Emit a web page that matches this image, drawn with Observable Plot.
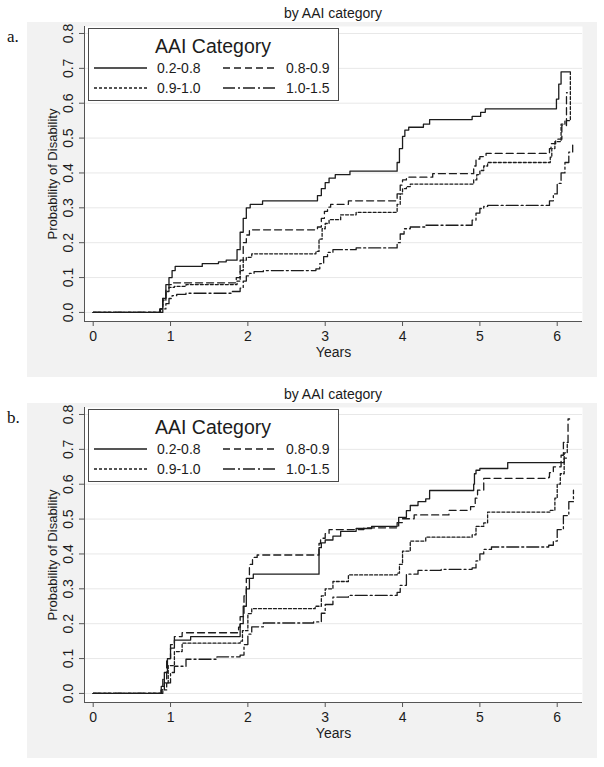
<!DOCTYPE html>
<html><head><meta charset="utf-8">
<script src="https://cdn.jsdelivr.net/npm/d3@7"></script>
<script src="https://cdn.jsdelivr.net/npm/@observablehq/plot@0.6"></script>
<style>
body{margin:0;background:#fff;width:604px;height:767px;position:relative;font-family:"Liberation Sans",Arial,sans-serif;overflow:hidden}
.title{position:absolute;left:83px;width:500px;text-align:center;font-size:14px;color:#1a1a1a;line-height:16px}
.tag{position:absolute;left:7px;font-family:"Liberation Serif","Times New Roman",serif;font-size:17px;color:#111;line-height:18px}
.panel{position:absolute;left:27px;width:570px;height:355px;background:#f2f2f2}
.panel svg{position:absolute;left:0;top:0}
.legend{position:absolute;left:61px;top:6px;width:251px;height:73px}
</style></head><body>
<script>
// ---- data ----
const categories = ["0.2-0.8", "0.8-0.9", "0.9-1.0", "1.0-1.5"];
const dashes = [null, "7,4", "3,2", "12,3,2,3"];
const xTicks = [0, 1, 2, 3, 4, 5, 6];
const yTicks = [0, 0.1, 0.2, 0.3, 0.4, 0.5, 0.6, 0.7, 0.8];

// Panel a (step functions: time, probability)
const aTime1 = [0,0.86,0.9,0.94,0.98,1.02,1.06,1.41,1.62,1.72,1.86,1.9,1.94,1.98,2.03,2.19,2.9,2.95,3.0,3.05,3.13,3.32,3.93,3.96,4.0,4.03,4.08,4.27,4.35,4.9,5.01,5.07,5.99,6.02,6.05,6.16];
const aProb1 = [0,0.01,0.04,0.08,0.1,0.12,0.132,0.14,0.145,0.15,0.18,0.23,0.27,0.3,0.31,0.32,0.335,0.355,0.372,0.385,0.395,0.405,0.43,0.47,0.505,0.523,0.531,0.54,0.553,0.562,0.574,0.584,0.612,0.655,0.69,0.69];
const aTime2 = [0,0.87,0.9,0.94,0.98,1.02,1.85,1.9,1.94,1.98,2.02,2.06,2.9,2.95,2.99,3.03,3.07,3.3,3.93,3.97,4.0,4.05,4.39,4.92,4.95,5.0,5.08,5.9,5.92,5.98,6.06,6.12,6.13];
const aProb2 = [0,0.01,0.04,0.065,0.08,0.085,0.1,0.15,0.2,0.222,0.235,0.237,0.245,0.27,0.29,0.302,0.31,0.32,0.34,0.365,0.38,0.388,0.398,0.42,0.44,0.447,0.456,0.47,0.484,0.497,0.536,0.63,0.63];
const aTime3 = [0,0.87,0.9,0.94,0.98,1.05,1.2,1.86,1.9,1.94,1.98,2.05,2.88,2.92,2.96,3.0,3.05,3.2,3.4,3.93,3.97,4.0,4.05,4.1,4.92,4.96,5.0,5.05,5.1,5.91,5.93,5.97,6.05,6.1,6.17];
const aProb3 = [0,0.01,0.035,0.06,0.072,0.075,0.08,0.09,0.12,0.15,0.158,0.168,0.175,0.21,0.24,0.255,0.266,0.28,0.287,0.31,0.34,0.355,0.361,0.368,0.38,0.395,0.407,0.42,0.43,0.445,0.47,0.49,0.54,0.55,0.69];
const aTime4 = [0,0.9,0.94,0.98,1.02,1.08,1.2,1.8,1.9,1.94,1.98,2.02,2.08,2.2,2.88,2.93,2.98,3.03,3.1,3.4,3.93,3.97,4.02,4.1,4.3,4.9,4.95,5.0,5.05,5.1,5.9,5.95,6.0,6.05,6.1,6.15,6.2];
const aProb4 = [0,0.01,0.025,0.04,0.048,0.052,0.055,0.06,0.07,0.09,0.105,0.112,0.117,0.12,0.125,0.14,0.16,0.172,0.18,0.185,0.2,0.225,0.24,0.245,0.25,0.265,0.285,0.298,0.304,0.307,0.32,0.34,0.37,0.4,0.43,0.46,0.48];

// Panel b
const bTime1 = [0,0.88,0.92,0.96,1.0,1.05,1.26,1.9,1.94,1.98,2.02,2.07,2.92,2.95,3.0,3.1,3.2,3.4,3.6,3.93,3.95,4.05,4.1,4.2,4.3,4.35,4.92,4.93,4.95,5.0,5.36,6.09,6.12];
const bProb1 = [0,0.02,0.06,0.1,0.13,0.153,0.163,0.2,0.25,0.3,0.33,0.342,0.418,0.432,0.44,0.451,0.465,0.473,0.479,0.49,0.505,0.524,0.539,0.55,0.558,0.582,0.6,0.63,0.64,0.645,0.662,0.675,0.675];
const bTime2 = [0,0.88,0.9,0.95,1.0,1.05,1.15,1.88,1.9,1.95,1.98,2.02,2.06,2.12,2.92,2.94,3.0,3.05,3.5,3.93,3.95,4.0,4.15,4.6,4.88,4.94,4.97,5.05,5.89,5.9,5.95,6.05,6.08,6.14,6.16];
const bProb2 = [0,0.01,0.04,0.1,0.14,0.163,0.174,0.19,0.22,0.28,0.33,0.37,0.39,0.397,0.43,0.445,0.458,0.47,0.475,0.48,0.49,0.501,0.512,0.525,0.536,0.56,0.583,0.617,0.62,0.633,0.65,0.683,0.72,0.787,0.787];
const bTime3 = [0,0.88,0.92,0.97,1.05,1.15,1.9,1.93,2.0,2.05,2.87,2.95,3.0,3.1,3.3,3.93,3.96,4.0,4.1,4.3,4.9,4.95,5.05,5.1,5.91,5.97,6.0,6.04,6.09,6.13,6.14];
const bProb3 = [0,0.01,0.03,0.08,0.12,0.144,0.15,0.18,0.229,0.243,0.25,0.28,0.3,0.321,0.34,0.345,0.37,0.408,0.437,0.448,0.455,0.479,0.489,0.52,0.525,0.56,0.6,0.63,0.69,0.72,0.72];
const bTime4 = [0,0.9,0.95,1.0,1.05,1.2,1.6,1.9,1.95,2.0,2.05,2.2,2.85,2.95,3.0,3.1,3.3,3.93,3.97,4.05,4.2,4.5,4.9,4.95,5.0,5.05,5.15,5.89,5.95,6.0,6.08,6.15,6.21];
const bProb4 = [0,0.01,0.03,0.06,0.078,0.098,0.105,0.11,0.14,0.17,0.191,0.202,0.205,0.23,0.255,0.276,0.281,0.29,0.31,0.342,0.353,0.356,0.36,0.38,0.4,0.413,0.42,0.425,0.437,0.47,0.51,0.55,0.583];

const panels = [
  {tag: "a.", top: 22, times: [aTime1, aTime2, aTime3, aTime4], probs: [aProb1, aProb2, aProb3, aProb4]},
  {tag: "b.", top: 403, times: [bTime1, bTime2, bTime3, bTime4], probs: [bProb1, bProb2, bProb3, bProb4]}
];

const xDomain = [-0.1125, 6.327];
const yDomain = [-0.026, 0.82];
const ink = "#1c1c1c";

function legendSvg() {
  const svg = d3.create("svg").attr("width", 251).attr("height", 73)
    .style("position", "absolute").style("left", "0").style("top", "0");
  svg.append("rect").attr("x", 0.5).attr("y", 0.5).attr("width", 250).attr("height", 72)
    .attr("fill", "#fff").attr("stroke", "#4a4a4a").attr("stroke-width", 1);
  svg.append("text").attr("x", 125).attr("y", 24.5).attr("text-anchor", "middle")
    .attr("font-size", 19.5).attr("fill", ink).attr("font-family", "Liberation Sans, Arial, sans-serif").text("AAI Category");
  const pos = [[6, 40], [135, 40], [6, 60], [135, 60]];
  categories.forEach((c, i) => {
    const [x, y] = pos[i];
    svg.append("line").attr("x1", x).attr("x2", x + 53).attr("y1", y).attr("y2", y)
      .attr("stroke", ink).attr("stroke-width", 1.3).attr("stroke-dasharray", dashes[i]);
    svg.append("text").attr("x", x + 63).attr("y", y).attr("dy", "0.36em")
      .attr("font-size", 14).attr("fill", ink).attr("font-family", "Liberation Sans, Arial, sans-serif").text(c);
  });
  return svg.node();
}

panels.forEach(p => {
  const title = document.createElement("div");
  title.className = "title"; title.style.top = (p.top - 17) + "px"; title.textContent = "by AAI category";
  document.body.appendChild(title);
  const tag = document.createElement("div");
  tag.className = "tag"; tag.style.top = (p.top + 6) + "px"; tag.textContent = p.tag;
  document.body.appendChild(tag);

  const panel = document.createElement("div");
  panel.className = "panel"; panel.style.top = p.top + "px";
  document.body.appendChild(panel);

  const rows = [];
  categories.forEach((c, i) => {
    p.times[i].forEach((t, j) => rows.push({cat: c, time: t, prob: p.probs[i][j]}));
  });

  const chart = Plot.plot({
    width: 570, height: 355,
    marginLeft: 57, marginRight: 15, marginTop: 4, marginBottom: 56,
    style: {background: "transparent", fontFamily: "Liberation Sans, Arial, sans-serif", fontSize: "14px", color: ink},
    x: {domain: xDomain, label: null},
    y: {domain: yDomain, label: null},
    marks: [
      Plot.frame({fill: "#fff", stroke: null}),
      Plot.ruleY(yTicks, {stroke: "#e8e8e8", strokeWidth: 1}),
      Plot.ruleX([xDomain[0]], {stroke: "#555"}),
      Plot.ruleY([yDomain[0]], {stroke: "#555"}),
      Plot.axisX({ticks: xTicks, tickSize: 5, tickPadding: 5, fontSize: 14, stroke: "#555", label: null, tickFormat: d => d}),
      Plot.axisY({ticks: yTicks, tickSize: 5, stroke: "#555", label: null, tickFormat: () => ""}),
      Plot.text(yTicks, {y: d => d, frameAnchor: "left", text: d => d.toFixed(1), rotate: -90, dx: -16, textAnchor: "middle", lineAnchor: "middle", fontSize: 14, fill: ink}),
      Plot.text(["Probability of Disability"], {frameAnchor: "left", rotate: -90, dx: -32, textAnchor: "middle", lineAnchor: "middle", fontSize: 13, fill: ink}),
      Plot.text(["Years"], {frameAnchor: "bottom", dy: 31, textAnchor: "middle", lineAnchor: "middle", fontSize: 14, fill: ink}),
      ...categories.map((c, i) => Plot.line(rows.filter(r => r.cat === c), {
        x: "time", y: "prob", curve: "step-after", stroke: ink, strokeWidth: 1.3,
        strokeDasharray: dashes[i] || undefined
      }))
    ]
  });
  panel.appendChild(chart);

  const leg = document.createElement("div");
  leg.className = "legend";
  leg.appendChild(legendSvg());
  panel.appendChild(leg);
});
</script>
</body></html>
